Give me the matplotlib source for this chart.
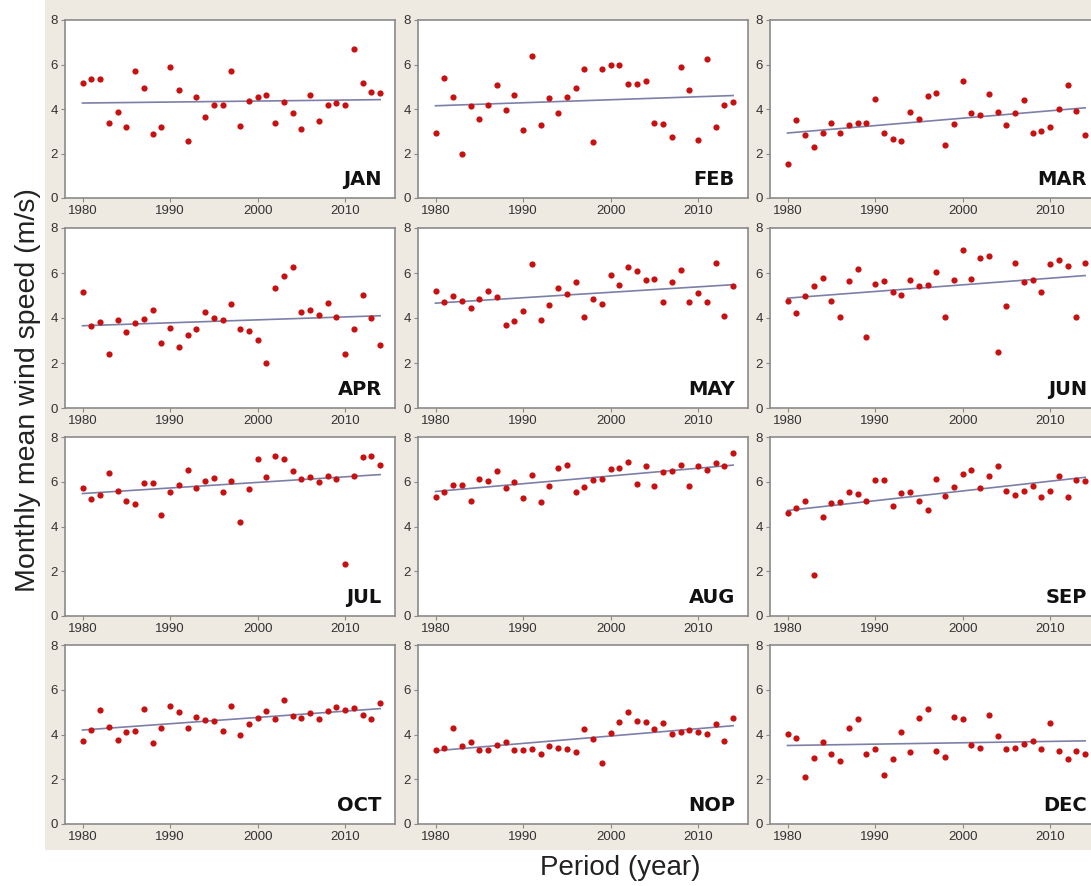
import numpy as np
import matplotlib
matplotlib.use('Agg')
import matplotlib.pyplot as plt
from matplotlib.patches import Rectangle

years = np.arange(1980, 2015)

jan = [5.16, 5.35, 5.35, 3.38, 3.87, 3.21, 5.72, 4.93, 2.88, 3.17, 5.90, 4.86, 2.57, 4.53, 3.66,
       4.19, 4.19, 5.70, 3.23, 4.36, 4.53, 4.62, 3.36, 4.32, 3.81, 3.09, 4.62, 3.45, 4.19, 4.29,
       4.16, 6.71, 5.17, 4.77, 4.74]
feb = [2.91, 5.38, 4.54, 2.00, 4.13, 3.57, 4.19, 5.10, 3.96, 4.62, 3.05, 6.37, 3.27, 4.48, 3.84,
       4.56, 4.93, 5.78, 2.51, 5.78, 5.98, 6.00, 5.13, 5.13, 5.25, 3.36, 3.32, 2.74, 5.87, 4.86,
       2.60, 6.23, 3.21, 4.16, 4.33]
mar = [1.55, 3.50, 2.83, 2.29, 2.91, 3.35, 2.91, 3.26, 3.38, 3.35, 4.44, 2.94, 2.63, 2.54, 3.87,
       3.53, 4.59, 4.71, 2.36, 3.32, 5.28, 3.81, 3.72, 4.68, 3.87, 3.26, 3.84, 4.39, 2.91, 3.03,
       3.20, 3.98, 5.10, 3.89, 2.83]
apr = [5.17, 3.66, 3.84, 2.38, 3.91, 3.39, 3.76, 3.94, 4.37, 2.90, 3.54, 2.71, 3.26, 3.51, 4.28,
       4.00, 3.91, 4.62, 3.51, 3.42, 3.02, 1.98, 5.32, 5.86, 6.26, 4.25, 4.34, 4.12, 4.68, 4.06,
       2.42, 3.51, 5.03, 4.00, 2.80]
may = [5.20, 4.73, 5.00, 4.76, 4.43, 4.86, 5.20, 4.94, 3.70, 3.88, 4.31, 6.39, 3.90, 4.58, 5.32,
       5.06, 5.58, 4.03, 4.83, 4.62, 5.93, 5.47, 6.26, 6.10, 5.67, 5.75, 4.70, 5.58, 6.13, 4.73,
       5.10, 4.73, 6.45, 4.09, 5.44]
jun = [4.74, 4.21, 4.98, 5.43, 5.80, 4.74, 4.03, 5.64, 6.19, 3.17, 5.50, 5.64, 5.17, 5.04, 5.67,
       5.44, 5.46, 6.04, 4.03, 5.67, 7.03, 5.72, 6.65, 6.77, 2.51, 4.55, 6.45, 5.58, 5.67, 5.17,
       6.42, 6.57, 6.29, 4.06, 6.45]
jul = [5.74, 5.25, 5.42, 6.39, 5.59, 5.16, 5.01, 5.93, 5.93, 4.50, 5.53, 5.84, 6.54, 5.74, 6.05,
       6.17, 5.53, 6.02, 4.19, 5.68, 7.03, 6.20, 7.13, 7.03, 6.48, 6.11, 6.23, 5.99, 6.27, 6.11,
       2.33, 6.24, 7.09, 7.15, 6.76]
aug = [5.30, 5.56, 5.84, 5.84, 5.16, 6.14, 6.05, 6.48, 5.74, 5.99, 5.27, 6.30, 5.10, 5.80, 6.60,
       6.75, 5.56, 5.77, 6.08, 6.11, 6.57, 6.60, 6.88, 5.90, 6.69, 5.80, 6.43, 6.48, 6.75, 5.80,
       6.69, 6.51, 6.85, 6.72, 7.28]
sep = [4.62, 4.84, 5.16, 1.84, 4.44, 5.05, 5.08, 5.56, 5.44, 5.16, 6.08, 6.08, 4.90, 5.50, 5.53,
       5.16, 4.73, 6.11, 5.36, 5.77, 6.36, 6.54, 5.74, 6.27, 6.72, 5.59, 5.39, 5.59, 5.80, 5.34,
       5.59, 6.27, 5.30, 6.08, 6.02]
oct_ = [3.72, 4.18, 5.09, 4.34, 3.75, 4.12, 4.15, 5.12, 3.63, 4.31, 5.28, 5.00, 4.28, 4.80, 4.65,
        4.61, 4.15, 5.29, 3.97, 4.49, 4.74, 5.03, 4.71, 5.56, 4.83, 4.74, 4.97, 4.68, 5.06, 5.23,
        5.09, 5.19, 4.86, 4.68, 5.43]
nov = [3.29, 3.41, 4.31, 3.47, 3.66, 3.29, 3.29, 3.51, 3.66, 3.32, 3.29, 3.35, 3.11, 3.47, 3.41,
       3.35, 3.20, 4.24, 3.78, 2.71, 4.07, 4.58, 5.01, 4.61, 4.58, 4.24, 4.52, 4.04, 4.12, 4.21,
       4.12, 4.04, 4.46, 3.69, 4.74]
dec = [4.01, 3.84, 2.11, 2.94, 3.66, 3.15, 2.83, 4.31, 4.71, 3.12, 3.36, 2.20, 2.91, 4.09, 3.24,
       4.74, 5.16, 3.28, 3.00, 4.77, 4.70, 3.52, 3.41, 4.89, 3.95, 3.37, 3.41, 3.57, 3.72, 3.35,
       4.51, 3.25, 2.91, 3.28, 3.15]

months = ['JAN', 'FEB', 'MAR', 'APR', 'MAY', 'JUN', 'JUL', 'AUG', 'SEP', 'OCT', 'NOP', 'DEC']
series = [jan, feb, mar, apr, may, jun, jul, aug, sep, oct_, nov, dec]

W, H = 1091, 886
fig = plt.figure(figsize=(W / 100, H / 100), dpi=100)
fig.patch.set_facecolor('white')

# beige panel behind the grid
bg = Rectangle((45 / W, 1 - 850 / H), 1, 850 / H, transform=fig.transFigure,
               facecolor='#eeeae1', edgecolor='none', zorder=-10)
fig.patches.append(bg)

col_left = [65, 418, 770]
col_w = 330
rows = [(20, 198), (228, 408), (437, 616), (645, 824)]

for i, (name, vals) in enumerate(zip(months, series)):
    r, c = divmod(i, 3)
    top, bot = rows[r]
    ax = fig.add_axes([col_left[c] / W, 1 - bot / H, col_w / W, (bot - top) / H])
    ax.set_facecolor('white')
    ax.scatter(years, vals, s=20, color='#c81010', zorder=3, linewidths=0)
    k, b = np.polyfit(years, vals, 1)
    ax.plot(years[[0, -1]], k * years[[0, -1]] + b, color='#7c80a8', lw=1.2, zorder=2)
    ax.set_xlim(1978, 2015.7)
    ax.set_ylim(0, 8)
    ax.set_xticks([1980, 1990, 2000, 2010])
    ax.set_yticks([0, 2, 4, 6, 8])
    for sp in ax.spines.values():
        sp.set_color('#8a8a8a')
        sp.set_linewidth(1.2)
    ax.tick_params(colors='#8a8a8a', labelcolor='#333333', labelsize=9.5, length=3, pad=2)
    for lab in ax.get_xticklabels() + ax.get_yticklabels():
        lab.set_family('Liberation Sans')
    ax.text(0.96, 0.05, name, transform=ax.transAxes, ha='right', va='bottom',
            fontsize=14, fontweight='bold', color='#111111')

fig.text(28 / W, 1 - 390 / H, 'Monthly mean wind speed (m/s)', rotation=90, ha='center',
         va='center', fontsize=20.5, color='#222222', family='Liberation Sans')
fig.text(620 / W, 1 - 868 / H, 'Period (year)', ha='center', va='center',
         fontsize=20, color='#222222', family='Liberation Sans')

fig.savefig('out.png', dpi=100, facecolor=fig.get_facecolor())
